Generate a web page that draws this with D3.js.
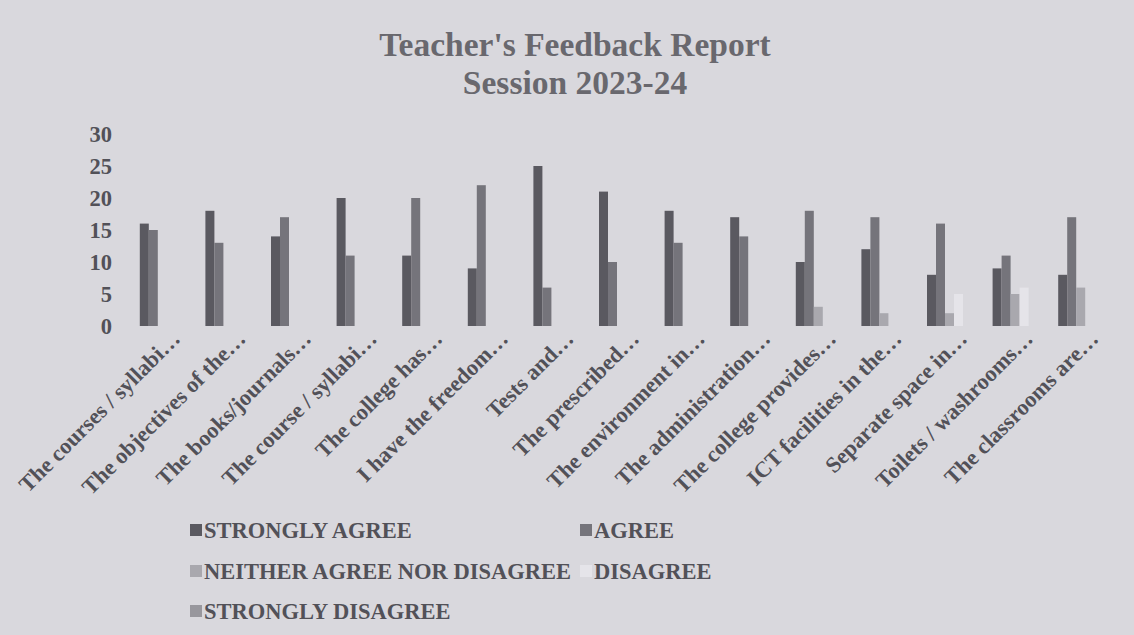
<!DOCTYPE html>
<html>
<head>
<meta charset="utf-8">
<script src="https://cdn.jsdelivr.net/npm/d3@7"></script>
<style>
  html, body { margin: 0; padding: 0; background: #d9d8dd; }
  svg { display: block; font-family: "Liberation Serif", "Times New Roman", serif; font-weight: bold; }
</style>
</head>
<body>
<svg id="chart" width="1134" height="635"></svg>
<script>
// Teacher's Feedback Report - clustered columns, 15 statements x 5 answers

const categories = [
    'The courses / syllabi\u2026', 'The objectives of the\u2026', 'The books/journals\u2026',
    'The course / syllabi\u2026', 'The college has\u2026', 'I have the freedom\u2026',
    'Tests and\u2026', 'The prescribed\u2026', 'The environment in\u2026',
    'The administration\u2026', 'The college provides\u2026', 'ICT facilities in the\u2026',
    'Separate space in\u2026', 'Toilets / washrooms\u2026', 'The classrooms are\u2026'
];
const seriesNames = ['STRONGLY AGREE', 'AGREE', 'NEITHER AGREE NOR DISAGREE', 'DISAGREE', 'STRONGLY DISAGREE'];
const stronglyAgree = [16, 18, 14, 20, 11, 9, 25, 21, 18, 17, 10, 12, 8, 9, 8];
const agree = [15, 13, 17, 11, 20, 22, 6, 10, 13, 14, 18, 17, 16, 11, 17];
const neither = [0, 0, 0, 0, 0, 0, 0, 0, 0, 0, 3, 2, 2, 5, 6];
const disagree = [0, 0, 0, 0, 0, 0, 0, 0, 0, 0, 0, 0, 5, 6, 0];
const stronglyDisagree = [0, 0, 0, 0, 0, 0, 0, 0, 0, 0, 0, 0, 0, 0, 0];
const yTicks = [0, 5, 10, 15, 20, 25, 30];

const seriesValues = [stronglyAgree, agree, neither, disagree, stronglyDisagree];
const colors = ['#5a5960', '#75747b', '#a9a8ae', '#e5e4e9', '#98979d'];

const svg = d3.select('#chart');
const textColor = '#525158';
const fontSize = '22.5px';

// Title
svg.append('text')
    .attr('x', 575).attr('y', 56)
    .attr('text-anchor', 'middle')
    .attr('fill', '#69686e')
    .attr('font-size', '33.5px')
    .text("Teacher's Feedback Report");
svg.append('text')
    .attr('x', 575).attr('y', 94)
    .attr('text-anchor', 'middle')
    .attr('fill', '#69686e')
    .attr('font-size', '33.5px')
    .text('Session 2023-24');

// Scales
const plot = { left: 129.5, right: 1113.5, top: 134, bottom: 326 };

const x0 = d3.scaleBand()
    .domain(categories)
    .range([plot.left, plot.right])
    .paddingInner(0)
    .paddingOuter(0);

const gap = x0.bandwidth() - 45;
const x1 = d3.scaleBand()
    .domain(seriesNames)
    .range([gap / 2, x0.bandwidth() - gap / 2]);

const y = d3.scaleLinear()
    .domain([0, 30])
    .range([plot.bottom, plot.top]);

// Bars
const rows = categories.map((c, i) => ({
    cat: c,
    vals: seriesNames.map((s, j) => ({ key: s, value: seriesValues[j][i], idx: j }))
}));

const groups = svg.append('g').selectAll('g')
    .data(rows)
    .enter()
    .append('g')
    .attr('transform', d => `translate(${x0(d.cat)},0)`);

groups.selectAll('rect')
    .data(d => d.vals.filter(v => v.value > 0))
    .enter()
    .append('rect')
    .attr('x', d => x1(d.key))
    .attr('y', d => y(d.value))
    .attr('width', x1.bandwidth())
    .attr('height', d => y(0) - y(d.value))
    .attr('fill', d => colors[d.idx]);

// Y axis (labels only, no line)
const yAxis = d3.axisLeft(y)
    .tickValues(yTicks)
    .tickSize(0)
    .tickPadding(0);

const yg = svg.append('g')
    .attr('transform', 'translate(112,0)')
    .call(yAxis);
yg.select('.domain').remove();
yg.selectAll('text')
    .attr('font-family', '"Liberation Serif", serif')
    .attr('font-weight', 'bold')
    .attr('font-size', fontSize)
    .attr('fill', textColor);

// X axis labels, rotated -45
const xAxis = d3.axisBottom(x0).tickSize(0).tickPadding(0);
const xg = svg.append('g')
    .attr('transform', `translate(0,${plot.bottom})`)
    .call(xAxis);
xg.select('.domain').remove();
xg.selectAll('text')
    .attr('font-family', '"Liberation Serif", serif')
    .attr('font-weight', 'bold')
    .attr('font-size', fontSize)
    .attr('fill', textColor)
    .attr('text-anchor', 'end')
    .attr('dy', '0')
    .attr('y', 0)
    .attr('transform', 'translate(19,14) rotate(-45)');

// Legend
const legendPos = [
    { x: 190, y: 530 }, { x: 580, y: 530 },
    { x: 190, y: 571 }, { x: 580, y: 571 },
    { x: 190, y: 611 }
];

const legend = svg.append('g').selectAll('g')
    .data(seriesNames)
    .enter()
    .append('g')
    .attr('transform', (d, i) => `translate(${legendPos[i].x},${legendPos[i].y})`);

legend.append('rect')
    .attr('x', 0).attr('y', -6)
    .attr('width', 12).attr('height', 12)
    .attr('fill', (d, i) => colors[i]);

legend.append('text')
    .attr('x', 14)
    .attr('y', 0)
    .attr('dy', '0.35em')
    .attr('font-size', fontSize)
    .attr('fill', textColor)
    .text(d => d);
</script>
</body>
</html>
